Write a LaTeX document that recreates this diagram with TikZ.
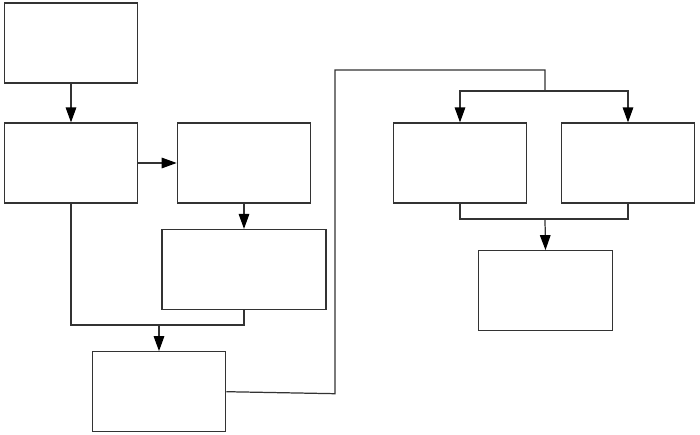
\documentclass[tikz,border=0pt]{standalone}
\usetikzlibrary{arrows.meta}

\def\boxWidth{2.67}
\def\boxHeight{1.6}

\begin{document}
\begin{tikzpicture}[x=0.02cm, y=-0.02cm,
        box/.style = {draw = black!80, line width = 0.7pt, inner sep = 0pt,
            minimum width = \boxWidth cm, minimum height = \boxHeight cm},
        link/.style = {draw = black!80, line width = 0.7pt},
        arrow/.style = {link, -{Triangle[length = 8.5pt, width = 6pt, color = black]}}]
            \useasboundingbox (0,0) rectangle (700,435);
            \foreach \name/\x/\y in {start/71/43, left/71/163, right/244/163,
                                     lower/159/391.7, branchA/460/163,
                                     branchB/628/163, final/545.5/290.7} {
                \node [box] (\name) at (\x,\y) {};
            }
            \node [box, minimum width = 3.28cm] (middle) at (244,269.5) {};
            \coordinate (mergeL) at (159,325);
            \coordinate (bendLow) at (335,393.7);
            \coordinate (bendHigh) at (335,70);
            \coordinate (split) at (545,91);
            \coordinate (mergeR) at (545,219);

            \draw [arrow] (start) -- (left);
            \draw [arrow] (left) -- (right);
            \draw [arrow] (right) -- (middle);
            \draw [link] (left.south) |- (mergeL) -| (middle.south);
            \draw [arrow] (mergeL) -- (lower.north);
            \draw [link] (lower.east) -- (bendLow) -- (bendHigh) -| (split);
            \draw [arrow] (split) -| (branchA.north);
            \draw [arrow] (split) -| (branchB.north);
            \draw [link] (branchA.south) |- (mergeR) -| (branchB.south);
            \draw [arrow] (mergeR) -- (final.north);
        \end{tikzpicture}
\end{document}
